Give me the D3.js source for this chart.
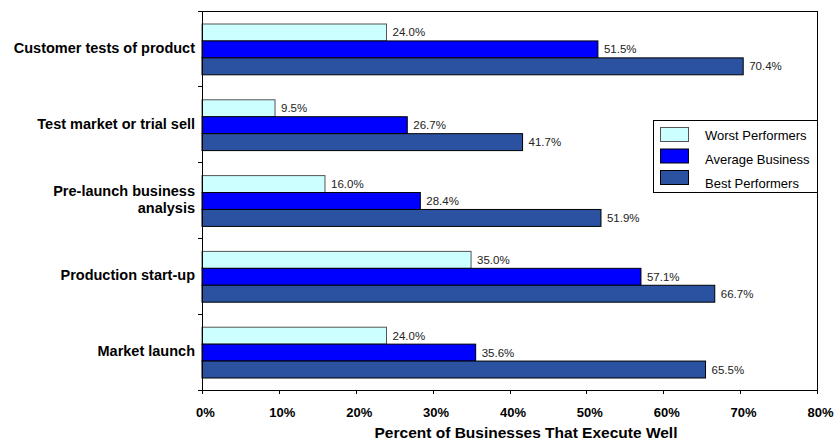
<!DOCTYPE html>
<head>
<meta charset="utf-8">
<title>Percent of Businesses That Execute Well</title>
<script src="https://d3js.org/d3.v7.min.js"></script>
<style>
body { margin: 0; background: #fff; }
text { font-family: "Liberation Sans", Arial, sans-serif; }
.axis path, .axis line { stroke: #000; stroke-width: 1; shape-rendering: crispEdges; }
.axis text { font-size: 13px; font-weight: bold; fill: #000; }
.cat_label { font-size: 14.5px; font-weight: bold; fill: #000; }
.val_label { font-size: 11.5px; fill: #222; }
.legend text { font-size: 13px; fill: #000; }
</style>
</head>
<body>
<div id="container"></div>
<script>

//------------------------DATA-------------------------//

const categories = ["Customer tests of product", "Test market or trial sell",
                    "Pre-launch business analysis", "Production start-up", "Market launch"];
const series = ["Worst Performers", "Average Business", "Best Performers"];
const worst   = [24.0,  9.5, 16.0, 35.0, 24.0];
const average = [51.5, 26.7, 28.4, 57.1, 35.6];
const best    = [70.4, 41.7, 51.9, 66.7, 65.5];
const xTicks = [0, 10, 20, 30, 40, 50, 60, 70, 80];

const colors = ["#ccffff", "#0000ff", "#2a52a0"];
const strokes = ["#555", "#000", "#000"];

//------------------------SVG-------------------------//

var margin = {top: 11, right: 18, bottom: 54, left: 202},
    width = 835 - margin.left - margin.right,
    height = 444 - margin.top - margin.bottom;

var svg = d3.select("#container").append("svg")
    .attr("width", 835).attr("height", 444)
  .append("g")
    .attr("transform", "translate(" + margin.left + "," + margin.top + ")");

//------------------------SCALES-------------------------//

const x = d3.scaleLinear().domain([0, 80]).range([0, width]);
const y0 = d3.scaleBand().domain(categories).range([0, height]);
const y1 = d3.scaleBand().domain(series)
    .range([13, y0.bandwidth() - 12]);

const rows = categories.map(function(c, i) {
  return {cat: c, vals: [worst[i], average[i], best[i]]};
});

//------------------------FRAME-------------------------//

svg.append("path")
    .attr("d", "M0,0.5H" + (width + 0.5) + "V" + height)
    .attr("fill", "none").attr("stroke", "#000")
    .style("shape-rendering", "crispEdges");

//------------------------BARS-------------------------//

const groups = svg.selectAll(".grp").data(rows).enter().append("g")
    .attr("transform", function(d) { return "translate(0," + y0(d.cat) + ")"; });

groups.selectAll("rect").data(function(d) { return d.vals; }).enter().append("rect")
    .attr("x", x(0))
    .attr("y", function(d, i) { return y1(series[i]); })
    .attr("width", function(d) { return x(d) - x(0); })
    .attr("height", y1.bandwidth())
    .attr("fill", function(d, i) { return colors[i]; })
    .attr("stroke", function(d, i) { return strokes[i]; })
    .attr("stroke-width", 1);

groups.selectAll(".val_label").data(function(d) { return d.vals; }).enter().append("text")
    .attr("class", "val_label")
    .attr("x", function(d) { return x(d) + 6; })
    .attr("y", function(d, i) { return y1(series[i]) + y1.bandwidth() / 2; })
    .attr("dy", "0.35em")
    .text(function(d) { return d.toFixed(1) + "%"; });

//------------------------AXES-------------------------//

const xAxis = svg.append("g")
    .attr("class", "axis")
    .attr("transform", "translate(0," + height + ")")
    .call(d3.axisBottom(x).tickValues(xTicks).tickSize(4).tickPadding(14)
          .tickFormat(function(d) { return d + "%"; }));
xAxis.selectAll("text").attr("dx", 3);

// y axis: line with ticks at band boundaries
const yAxis = svg.append("g").attr("class", "axis");
yAxis.append("line").attr("x1", 0).attr("x2", 0).attr("y1", 0).attr("y2", height);
yAxis.selectAll(".yt").data(categories.concat(["end"])).enter().append("line")
    .attr("x1", -4).attr("x2", 0)
    .attr("y1", function(d, i) { return i * y0.step(); })
    .attr("y2", function(d, i) { return i * y0.step(); });

// category labels
const catText = svg.selectAll(".cat_label").data(rows).enter().append("text")
    .attr("class", "cat_label")
    .attr("text-anchor", "end")
    .attr("x", -7)
    .attr("y", function(d) { return y0(d.cat) + y0.bandwidth() / 2 - 1; });

catText.each(function(d) {
  var t = d3.select(this);
  var lines = d.cat === "Pre-launch business analysis" ? ["Pre-launch business", "analysis"] : [d.cat];
  lines.forEach(function(l, k) {
    t.append("tspan").attr("x", -7)
      .attr("dy", k === 0 ? (0.35 - (lines.length - 1) * 0.6) + "em" : "1.2em")
      .text(l);
  });
});

// axis title
svg.append("text")
    .attr("x", 324)
    .attr("y", height + 48)
    .attr("text-anchor", "middle")
    .style("font-size", "15.5px").style("font-weight", "bold")
    .text("Percent of Businesses That Execute Well");

//------------------------LEGEND-------------------------//

const legend = svg.append("g").attr("class", "legend")
    .attr("transform", "translate(" + (653 - margin.left) + "," + (120 - margin.top) + ")");

legend.append("rect")
    .attr("x", 0.5).attr("y", 0.5).attr("width", 817 - 653).attr("height", 72)
    .attr("fill", "#fff").attr("stroke", "#000");

series.forEach(function(s, i) {
  legend.append("rect")
    .attr("x", 7.5).attr("y", 7.5 + i * 21.5).attr("width", 28).attr("height", 14)
    .attr("fill", colors[i]).attr("stroke", i === 0 ? "#555" : "#000");
  legend.append("text")
    .attr("x", 52).attr("y", 15 + i * 24).attr("dy", "0.35em")
    .text(s);
});

</script>
</body>
</html>
